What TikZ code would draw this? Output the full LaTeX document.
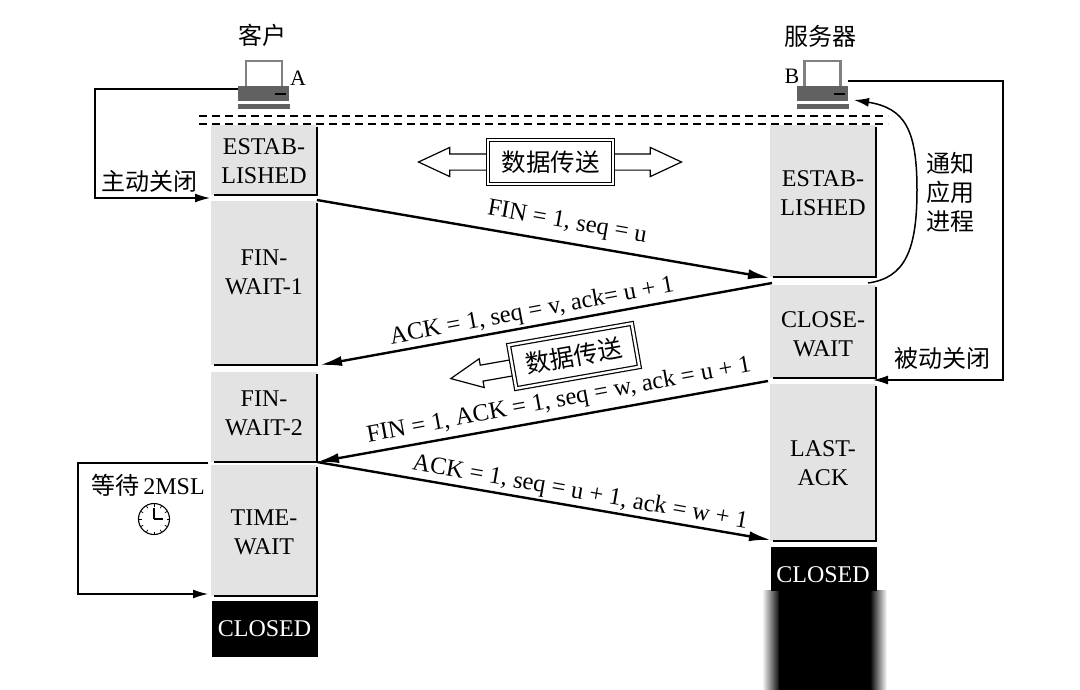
\documentclass[tikz,border=0pt]{standalone}
\usepackage{fontspec}
\setmainfont{Liberation Serif}
\newfontfamily\cjk{Noto Sans CJK SC}
\usepackage{xcolor}
\usetikzlibrary{calc,arrows.meta,positioning,shapes.arrows}

\definecolor{statefill}{gray}{0.89}
\definecolor{hostgray}{gray}{0.38}
\tikzset{
  statebox/.style={fill=statefill,minimum width=106pt,inner sep=0pt},
  statetext/.style={inner sep=0pt,align=center,font=\fontsize{24}{29}\selectfont},
  closedbox/.style={fill=black,text=white,minimum width=106pt,inner sep=0pt,font=\fontsize{24}{28}\selectfont},
  msgline/.style={-{Latex[length=22pt,width=10pt]},line width=2.4pt},
  sideline/.style={-{Latex[length=15pt,width=9pt]},line width=1.3pt},
  msglabel/.style={inner sep=0pt,font=\fontsize{24.5}{28}\selectfont},
  cjklabel/.style={inner sep=0pt,align=center,font=\cjk\fontsize{24}{29}\selectfont},
  databox/.style={draw,double,double distance=2.4pt,line width=1.2pt,fill=white,minimum width=125pt,minimum height=44pt,inner sep=0pt,font=\cjk\fontsize{24.5}{28}\selectfont},
  dataarrow/.style={draw,line width=1.2pt,fill=white,inner sep=0pt,text height=15pt,text depth=0pt,minimum width=28pt},
}

\begin{document}
\begin{tikzpicture}[x=1pt,y=-1pt]
  \useasboundingbox (0,0) rectangle (1080,689);

  % --- Dashed lines ---
  \draw[line width=1.6pt,dash pattern=on 8pt off 5pt] (199,116) -- (888,116);
  \draw[line width=1.6pt,dash pattern=on 8pt off 5pt] (199,124) -- (888,124);

  % --- Left column states ---
  \node[statebox,minimum height=70pt] (estabA) at (264,160) {};
  \node[statetext] (estabAtext) at (264,161) {ESTAB-\\LISHED};
  \node[statebox,minimum height=164pt] (waitone) at (264,283) {};
  \node[statetext] (waitonetext) at (264,272.5) {FIN-\\WAIT-1};
  \node[statebox,minimum height=90pt] (waittwo) at (264,417) {};
  \node[statetext] (waittwotext) at (264,413.5) {FIN-\\WAIT-2};
  \node[statebox,minimum height=131pt] (timewait) at (264,530.5) {};
  \node[statetext] (timewaittext) at (264,532.5) {TIME-\\WAIT};
  \node[closedbox,minimum height=56pt] (closedA) at (264.5,629) {CLOSED};

  % --- Right column states ---
  \node[statebox,minimum height=152pt] (estabB) at (823,201) {};
  \node[statetext] (estabBtext) at (823,193.5) {ESTAB-\\LISHED};
  \node[statebox,minimum height=93pt] (closewait) at (823,331.5) {};
  \node[statetext] (closewaittext) at (823,334.5) {CLOSE-\\WAIT};
  \node[statebox,minimum height=157pt] (lastack) at (823,462.5) {};
  \node[statetext] (lastacktext) at (823,463.5) {LAST-\\ACK};

  % --- Closed block running off the page ---
  \fill[left color=white,right color=black] (762,590) rectangle (780,700);
  \fill[left color=black,right color=white] (870,590) rectangle (887,700);
  \fill[black] (779,590) rectangle (871,700);
  \node[closedbox,minimum height=44pt] (closedB) at (824,569) {};
  \node[inner sep=0pt,text=white,font=\fontsize{24}{28}\selectfont] (closedBtext) at (823,575) {CLOSED};

  % --- State edges ---
  \foreach \st in {estabA,waitone,waittwo,timewait,estabB,closewait,lastack}{
    \draw[line width=1.6pt] ($(\st.north east)+(0,2)$) -- (\st.south east) -- ($(\st.south west)+(3,0)$);
  }

  % --- Hosts ---
  \node[cjklabel] (client) at (262,35) {客户};
  \node[cjklabel] (server) at (820,36) {服务器};
  \node[inner sep=0pt,font=\fontsize{22}{26}\selectfont] (labelA) at (298,78) {A};
  \node[inner sep=0pt,font=\fontsize{22}{26}\selectfont] (labelB) at (792,76) {B};
  \foreach \hx/\hname in {264/hostA,822.5/hostB}{
    \begin{scope}[shift={(\hx,0)}]
      \draw[line width=2.6pt,draw=gray,fill=white] (-18,61) rectangle (18,87);
      \fill[hostgray] (-26,86) rectangle (25,101);
      \draw[line width=1.5pt] (11,94) -- (22,94);
      \fill[hostgray] (-26,104) rectangle (26,109);
      \coordinate (\hname) at (0,85);
    \end{scope}
  }

  % --- Messages ---
  \coordinate (finS) at (317,200);
  \coordinate (finE) at (770,278);
  \coordinate (ackS) at (772,283);
  \coordinate (ackE) at (320,365);
  \coordinate (finTwoS) at (768,381);
  \coordinate (finTwoE) at (317,462);
  \coordinate (ackTwoE) at (771,540);
  \draw[msgline] (finS) -- (finE);
  \draw[msgline] (ackS) -- (ackE);
  \draw[msgline] (finTwoS) -- (finTwoE);
  \draw[msgline] (finTwoE) -- (ackTwoE);
  \node[msglabel,rotate=-10] (finlabel) at (567,223) {FIN = 1, seq = u};
  \node[msglabel,rotate=10.5] (acklabel) at (532,312) {ACK = 1, seq = v, ack= u + 1};
  \node[msglabel,rotate=10.5] (fintwolabel) at (559,401) {FIN = 1, ACK = 1, seq = w, ack = u + 1};
  \node[msglabel,rotate=-10] (acktwolabel) at (580,493) {ACK = 1, seq = u + 1, ack = w + 1};

  % --- Data transfer ---
  \node[dataarrow,double arrow,double arrow head extend=6.5pt,double arrow tip angle=50,minimum height=263pt] (bothway) at (550,162) {};
  \node[databox] (dataone) at (550.5,162) {数据传送};
  \node[dataarrow,single arrow,single arrow head extend=6.5pt,single arrow tip angle=50,minimum height=116pt,rotate=190] (oneway) at (516.5,367) {};
  \node[databox,rotate=10] (datatwo) at (574,356) {数据传送};

  % --- Client side close ---
  \coordinate (closeA) at (238,89);
  \coordinate (cornerAt) at (95,89);
  \coordinate (cornerAb) at (95,198);
  \coordinate (closeAend) at (210,198);
  \draw[sideline] (closeA) -- (cornerAt) -- (cornerAb) -- (closeAend);
  \node[cjklabel] (activeclose) at (149,181) {主动关闭};

  % --- Server side close ---
  \coordinate (closeB) at (848,81);
  \coordinate (cornerBt) at (1003,81);
  \coordinate (cornerBb) at (1003,380);
  \coordinate (closeBend) at (873,380);
  \draw[sideline] (closeB) -- (cornerBt) -- (cornerBb) -- (closeBend);
  \node[cjklabel] (passiveclose) at (942,358) {被动关闭};

  % --- Notify application ---
  \coordinate (notifyS) at (868,283);
  \coordinate (notifyM) at (917,190);
  \coordinate (notifyE) at (854,100);
  \draw[-{Latex[length=15pt,width=9pt]},line width=1.5pt] (notifyS) .. controls (905,278) and (917,250) .. (notifyM) .. controls (917,130) and (905,108) .. (notifyE);
  \node[cjklabel] (notifytext) at (950,192.5) {通知\\应用\\进程};

  % --- Time wait loop ---
  \coordinate (waitS) at (208,463);
  \coordinate (waitT) at (78,463);
  \coordinate (waitB) at (78,594);
  \coordinate (waitE) at (208,594);
  \draw[sideline] (waitS) -- (waitT) -- (waitB) -- (waitE);
  \node[cjklabel] (msl) at (148,485) {等待\,{\rmfamily 2MSL}};
  \node[draw,circle,line width=1.1pt,minimum size=31pt,inner sep=0pt] (clock) at (154,519) {};
  \foreach \ang in {0,30,...,330}{
    \draw[line width=0.7pt] ($(clock)+(\ang:12.5)$) -- ($(clock)+(\ang:15)$);
  }
  \draw[line width=1.8pt] (clock.center) -- ++(0,-11);
  \draw[line width=1.8pt] (clock.center) -- ++(9,0);
\end{tikzpicture}
\end{document}
